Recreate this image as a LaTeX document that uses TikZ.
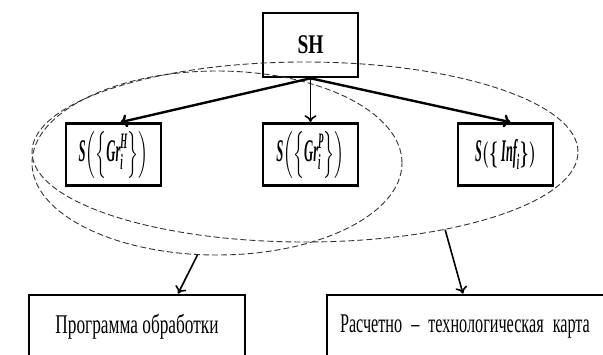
\documentclass[tikz,border=0pt]{standalone}
\usepackage{amsmath}
\usepackage{graphicx}
\usepackage{fontspec}
\setmainfont{Liberation Serif}[FakeStretch=0.64]
\newfontfamily\headfont{Liberation Serif}[FakeStretch=0.72]
\newfontfamily\cardfont{Liberation Serif}[FakeStretch=0.6]
\usetikzlibrary{shapes.geometric,arrows.meta}

\begin{document}
\begin{tikzpicture}[x=1pt,y=-1pt,
    setbox/.style={draw,line width=2.6pt,minimum width=95pt,minimum height=62pt,inner sep=0pt,
      font=\bfseries\itshape\fontsize{30}{34}\selectfont\boldmath},
    docbox/.style={draw,line width=2.6pt,minimum height=64pt,inner sep=0pt,
      font=\fontsize{27}{30}\selectfont},
    group/.style={ellipse,draw=black!80,dash pattern=on 6pt off 3pt,line width=0.9pt,inner sep=0pt},
    link/.style={line width=2.4pt,-{To[length=7pt,width=13pt]}},
    thinlink/.style={line width=1.6pt,-{To[length=7pt,width=12pt]}}]
    \useasboundingbox (0,0) rectangle (603,354);
    % Top node SH
    \node[setbox,minimum height=64pt,font=\headfont\bfseries\fontsize{27}{30}\selectfont] (sh) at (310.5,45) {SH};
    % The three sets S(...)
    \node[setbox] (grh) at (113.5,154.5)
      {\scalebox{0.66}[1.05]{S$\left(\left\{\text{Gr}^{\text{H}}_{\text{i}}\right\}\right)$}};
    \node[setbox] (grp) at (310.5,154.5)
      {\scalebox{0.66}[1.05]{S$\left(\left\{\text{Gr}^{\text{P}}_{\text{i}}\right\}\right)$}};
    \node[setbox] (inf) at (505.5,154.5)
      {\scalebox{0.64}[1.05]{S$(\{\text{ Inf}_{\text{i}}\})$}};
    % Dashed groupings
    \node[group,minimum width=370pt,minimum height=184pt] (set1) at (217,163) {};
    \node[group,minimum width=546pt,minimum height=180pt] (set2) at (305,152) {};
    % Output documents (cut off at the bottom)
    \node[docbox,minimum width=216pt] (prog) at (137,327) {Программа обработки};
    \node[docbox,minimum width=313pt,text width=287pt,align=left,inner xsep=13pt,
      font=\cardfont\fontsize{27}{30}\selectfont] (card) at (483.5,327)
      {Расчетно – технологическая карта};
    % Arrows from SH
    \draw[link] (sh.south) -- ([xshift=7pt]grh.north);
    \draw[thinlink] (sh.south) -- (grp.north);
    \draw[link] (sh.south) -- ([xshift=5pt]inf.north);
    % Arrows from the groupings
    \draw[thinlink] (set1.258) -- ([xshift=41pt]prog.north);
    \draw[thinlink] (set2.331) -- ([xshift=-20.5pt]card.north);
\end{tikzpicture}
\end{document}
